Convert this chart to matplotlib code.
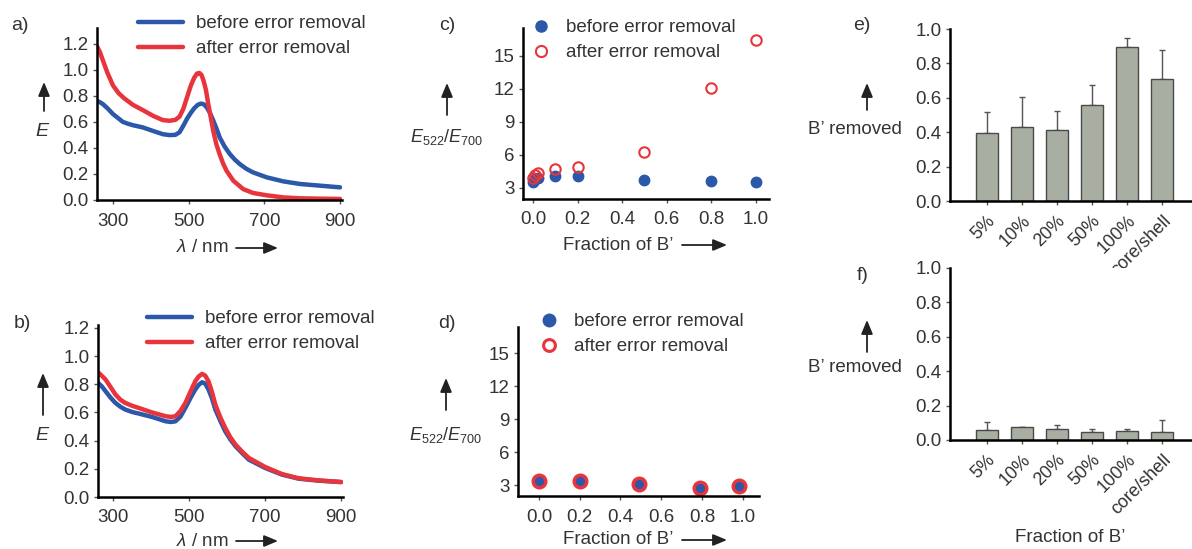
import matplotlib
matplotlib.use("Agg")
import matplotlib.pyplot as plt
from matplotlib.patches import FancyArrowPatch
from matplotlib.lines import Line2D

plt.rcParams['font.family'] = ['Liberation Sans', 'DejaVu Sans']
plt.rcParams['mathtext.fontset'] = 'custom'
plt.rcParams['mathtext.rm'] = 'Liberation Sans'
plt.rcParams['mathtext.it'] = 'Liberation Sans:italic'
plt.rcParams['text.color'] = '#333333'
plt.rcParams['xtick.color'] = '#555555'
plt.rcParams['ytick.color'] = '#555555'
plt.rcParams['xtick.labelcolor'] = '#333333'
plt.rcParams['ytick.labelcolor'] = '#333333'

# ---- data -------------------------------------------------------------
# panel a: spectra
wl_a_after = [258, 265, 275, 285, 300, 315, 330, 353, 379, 406, 432, 450, 465, 476,
              486, 496, 506, 515, 522, 528, 534, 540, 546, 551, 558, 565, 573, 582,
              591, 600, 618, 644, 670, 706, 750, 794, 850, 900]
E_a_after = [1.18, 1.14, 1.06, 0.98, 0.88, 0.82, 0.78, 0.73, 0.69, 0.646, 0.613,
             0.608, 0.615, 0.64, 0.70, 0.79, 0.88, 0.94, 0.97, 0.975, 0.96, 0.91,
             0.84, 0.75, 0.64, 0.53, 0.43, 0.35, 0.28, 0.225, 0.148, 0.084, 0.054,
             0.036, 0.02, 0.013, 0.01, 0.008]
wl_a_before = [258, 266, 274, 287, 300, 313, 326, 340, 353, 379, 406, 432, 450, 465,
               476, 486, 496, 506, 515, 524, 532, 540, 548, 556, 565, 574, 582, 595,
               609, 622, 635, 652, 670, 706, 750, 794, 847, 900]
E_a_before = [0.76, 0.75, 0.735, 0.70, 0.66, 0.63, 0.60, 0.585, 0.574, 0.557, 0.53,
              0.505, 0.498, 0.50, 0.52, 0.57, 0.625, 0.67, 0.705, 0.73, 0.74, 0.735,
              0.71, 0.67, 0.61, 0.545, 0.48, 0.41, 0.352, 0.31, 0.276, 0.24, 0.212,
              0.174, 0.143, 0.123, 0.11, 0.097]

# panel b: spectra
wl_b = [260, 270, 280, 293, 306, 319, 332, 350, 367, 402, 438, 452, 464, 477, 490,
        503, 516, 525, 534, 542, 551, 560, 569, 582, 595, 608, 622, 640, 657, 700,
        744, 788, 840, 900]
E_b_before = [0.81, 0.785, 0.75, 0.705, 0.667, 0.64, 0.62, 0.603, 0.592, 0.568, 0.537,
              0.532, 0.537, 0.57, 0.632, 0.70, 0.762, 0.795, 0.814, 0.805, 0.762, 0.70,
              0.62, 0.54, 0.466, 0.41, 0.36, 0.31, 0.265, 0.206, 0.159, 0.13, 0.116,
              0.106]
E_b_after = [0.885, 0.86, 0.833, 0.78, 0.727, 0.69, 0.667, 0.647, 0.632, 0.60, 0.573,
             0.568, 0.573, 0.61, 0.667, 0.745, 0.82, 0.855, 0.873, 0.862, 0.82, 0.745,
             0.655, 0.565, 0.49, 0.425, 0.372, 0.32, 0.277, 0.213, 0.163, 0.133,
             0.118, 0.106]

# panel c: ratio vs fraction
frac_c = [0.0, 0.01, 0.02, 0.1, 0.2, 0.5, 0.8, 1.0]
ratio_c_before = [3.5, 3.8, 3.9, 4.1, 4.1, 3.7, 3.6, 3.5]
ratio_c_after = [3.9, 4.2, 4.4, 4.7, 4.9, 6.3, 12.1, 16.4]

# panel d
frac_d = [0.0, 0.2, 0.49, 0.79, 0.98]
ratio_d_before = [3.35, 3.35, 3.05, 2.7, 2.85]
ratio_d_after = [3.4, 3.4, 3.1, 2.75, 2.9]

# panels e, f: B' removed
bar_labels = ['5%', '10%', '20%', '50%', '100%', 'core/shell']
removed_e = [0.395, 0.428, 0.411, 0.556, 0.895, 0.707]
err_e = [0.122, 0.175, 0.11, 0.116, 0.051, 0.169]
removed_f = [0.056, 0.073, 0.064, 0.048, 0.050, 0.046]
err_f = [0.05, 0.0, 0.025, 0.014, 0.016, 0.07]

BLUE = '#2b58a8'
RED = '#e8343c'
BAR = '#a9aea3'
FS = 13.5

W, H = 1192, 549
fig = plt.figure(figsize=(W / 100, H / 100), dpi=100)


def add_ax(l, t, r, b):
    return fig.add_axes([l / W, 1 - b / H, (r - l) / W, (b - t) / H])


def style(ax):
    for s in ['top', 'right']:
        ax.spines[s].set_visible(False)
    for s in ['left', 'bottom']:
        ax.spines[s].set_linewidth(1.8)
        ax.spines[s].set_color('black')
    ax.tick_params(labelsize=FS, length=3, width=1, direction='out')
    ax.tick_params(axis='x', pad=6)
    ax.tick_params(axis='y', pad=3)


def ftext(x, y, s, ha='center', **kw):
    fig.text(x / W, 1 - y / H, s, ha=ha, va='center', **kw)


def arrow(x0, y0, x1, y1):
    fig.add_artist(FancyArrowPatch((x0 / W, 1 - y0 / H), (x1 / W, 1 - y1 / H),
                                   transform=fig.transFigure, color='#222222', lw=1.3,
                                   arrowstyle='-|>,head_length=0.6,head_width=0.25',
                                   mutation_scale=14, shrinkA=0, shrinkB=0))


def leg(ax, handles, labels, x, y, hl=2.4):
    ax.legend(handles, labels, loc='upper left', bbox_to_anchor=(x / W, 1 - y / H),
              bbox_transform=fig.transFigure, frameon=False, fontsize=FS,
              borderpad=0, borderaxespad=0, handlelength=hl, handletextpad=0.7,
              labelspacing=0.42)


# ---- a ----
ax = add_ax(97, 28, 342, 200)
style(ax)
la, = ax.plot(wl_a_before, E_a_before, color=BLUE, lw=3.2, solid_capstyle='round')
lb, = ax.plot(wl_a_after, E_a_after, color=RED, lw=3.2, solid_capstyle='round')
ax.set_xlim(258, 905)
ax.set_ylim(0, 1.32)
ax.set_xticks([300, 500, 700, 900])
ax.set_yticks([0, 0.2, 0.4, 0.6, 0.8, 1.0, 1.2])
ax.set_yticklabels(['0.0', '0.2', '0.4', '0.6', '0.8', '1.0', '1.2'])
leg(ax, [la, lb], ['before error removal', 'after error removal'], 138, 15)

# ---- b ----
ax = add_ax(98, 325, 343, 497)
style(ax)
la, = ax.plot(wl_b, E_b_before, color=BLUE, lw=3.2, solid_capstyle='round')
lb, = ax.plot(wl_b, E_b_after, color=RED, lw=3.2, solid_capstyle='round')
ax.set_xlim(260, 905)
ax.set_ylim(0, 1.22)
ax.set_xticks([300, 500, 700, 900])
ax.set_yticks([0, 0.2, 0.4, 0.6, 0.8, 1.0, 1.2])
ax.set_yticklabels(['0.0', '0.2', '0.4', '0.6', '0.8', '1.0', '1.2'])
leg(ax, [la, lb], ['before error removal', 'after error removal'], 147, 310)

# ---- c ----
ax = add_ax(523, 28, 769, 199)
style(ax)
ax.plot(frac_c, ratio_c_before, 'o', color=BLUE, ms=7.5, mec=BLUE, clip_on=False)
ax.plot(frac_c, ratio_c_after, 'o', mfc='none', mec=RED, ms=7.5, mew=1.5, clip_on=False)
ax.set_xlim(-0.046, 1.06)
ax.set_ylim(2, 17.5)
ax.set_xticks([0, 0.2, 0.4, 0.6, 0.8, 1.0])
ax.set_xticklabels(['0.0', '0.2', '0.4', '0.6', '0.8', '1.0'])
ax.set_yticks([3, 6, 9, 12, 15])
hb = Line2D([], [], ls='none', marker='o', color=BLUE, ms=8)
ha = Line2D([], [], ls='none', marker='o', mfc='none', mec=RED, ms=8, mew=1.5)
leg(ax, [hb, ha], ['before error removal', 'after error removal'], 530, 19, hl=1.2)

# ---- d ----
ax = add_ax(518, 327, 759, 496)
style(ax)
ax.plot(frac_d, ratio_d_after, 'o', color=BLUE, mec=RED, ms=9, mew=2.5, clip_on=False)
ax.plot(frac_d, ratio_d_before, 'o', color=BLUE, ms=5.5, mew=0, clip_on=False)
ax.set_xlim(-0.103, 1.08)
ax.set_ylim(2, 17.4)
ax.set_xticks([0, 0.2, 0.4, 0.6, 0.8, 1.0])
ax.set_xticklabels(['0.0', '0.2', '0.4', '0.6', '0.8', '1.0'])
ax.set_yticks([3, 6, 9, 12, 15])
hb = Line2D([], [], ls='none', marker='o', color=BLUE, ms=9)
ha = Line2D([], [], ls='none', marker='o', mfc='none', mec=RED, ms=8.5, mew=2.2)
leg(ax, [hb, ha], ['before error removal', 'after error removal'], 538, 313, hl=1.2)

# ---- e, f ----
for (t, b), vals, errs in [((29, 201), removed_e, err_e), ((268, 440), removed_f, err_f)]:
    ax = add_ax(950, t, 1192, b)
    style(ax)
    xs = range(len(bar_labels))
    ax.bar(xs, vals, width=0.63, color=BAR, edgecolor='#4a4a4a', lw=1.0, zorder=2)
    ax.errorbar(xs, vals, yerr=[[0] * len(errs), errs], fmt='none', ecolor='#555555',
                elinewidth=1.0, capsize=2.5, capthick=1.0, zorder=1)
    ax.set_xlim(-1.05, 5.85)
    ax.set_ylim(0, 1.0)
    ax.set_yticks([0, 0.2, 0.4, 0.6, 0.8, 1.0])
    ax.set_yticklabels(['0.0', '0.2', '0.4', '0.6', '0.8', '1.0'])
    ax.set_xticks(list(xs))
    ax.set_xticklabels(bar_labels, rotation=45, ha='right', rotation_mode='anchor',
                       fontsize=13)
    ax.tick_params(axis='x', pad=5)

# ---- text labels ----
for s, x, y in [('a)', 20, 25), ('b)', 22, 323), ('c)', 447, 26), ('d)', 447, 323),
                ('e)', 862, 25), ('f)', 863, 275)]:
    ftext(x, y, s, fontsize=14)

# y labels with arrows
arrow(44, 111, 44, 82)
ftext(43, 132, '$E$', fontsize=14)
arrow(43, 415, 43, 373)
ftext(43, 435, '$E$', fontsize=14)
arrow(447, 115, 447, 83)
ftext(447, 137, r'$E_{\mathit{522}}/E_{\mathit{700}}$', fontsize=13)
arrow(446, 410, 446, 378)
ftext(446, 435, r'$E_{\mathit{522}}/E_{\mathit{700}}$', fontsize=13)
arrow(867, 110, 867, 83)
ftext(855, 130, 'B\u2019 removed', fontsize=FS)
arrow(867, 352, 867, 320)
ftext(855, 367, 'B\u2019 removed', fontsize=FS)

# x labels with arrows
ftext(176, 248, '$\\lambda$ / nm', ha='left', fontsize=13.5)
arrow(236, 248, 278, 248)
ftext(176, 541, '$\\lambda$ / nm', ha='left', fontsize=13.5)
arrow(236, 541, 278, 541)
ftext(563, 245, 'Fraction of B\u2019', ha='left', fontsize=FS)
arrow(682, 245, 727, 245)
ftext(563, 540, 'Fraction of B\u2019', ha='left', fontsize=FS)
arrow(682, 540, 727, 540)
ftext(1070, 538, 'Fraction of B\u2019', fontsize=FS)

fig.savefig('out.png', dpi=100)
